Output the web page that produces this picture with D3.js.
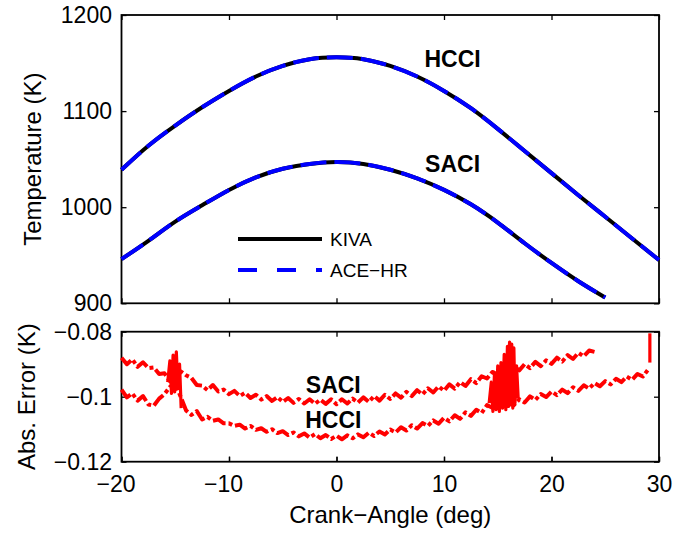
<!DOCTYPE html>
<html>
<head>
<meta charset="utf-8">
<script src="https://cdn.jsdelivr.net/npm/d3@7"></script>
<style>
	body { margin: 0; background: #fff; }
	svg text { font-family: 'Liberation Sans', Arial, Helvetica, sans-serif; fill: #000; }
	.tick text { font-size: 23px; }
	.tick line { stroke: #000; stroke-width: 1.3; }
	.axisLabel { font-size: 24px; }
	.caseLabel { font-size: 23px; font-weight: bold; }
	.legendLabel { font-size: 19px; }
	.frame { fill: none; stroke: #000; stroke-width: 1.8; }
</style>
</head>
<body>
<script>
// temperature curves (crank angle, deg)
const hcciAngles = [-20, -17.5, -15, -12.5, -10, -7.5, -5, -2.5, 0, 2.5, 5, 7.5, 10, 12.5, 15, 17.5, 20, 22.5, 25, 27.5, 30]
const hcciTemp = [1039, 1064, 1085, 1104, 1121, 1136, 1147, 1154, 1156, 1154, 1147, 1136, 1121, 1103, 1081.5, 1058.5, 1035.5, 1012.5, 990, 967.5, 945]
const saciAngles = [-20, -17.5, -15, -12.5, -10, -7.5, -5, -2.5, 0, 2.5, 5, 7.5, 10, 12.5, 15, 17.5, 20, 22.5, 25]
const saciTemp = [946, 965, 985, 1002, 1018, 1031, 1040, 1045, 1047, 1045, 1039, 1030, 1018, 1003, 984, 962.5, 942, 923, 906]

// absolute error, sampled every half degree
const errAngles = d3.range(-20, 29.01, 0.5)
const hcciError = [
	-0.0978, -0.1002, -0.0990, -0.1012, -0.0998, -0.1024, -0.1028, -0.1006, -0.0992, -0.0970,
	-0.0960, -0.1000, -0.1042, -0.1056, -0.1044, -0.1070, -0.1062, -0.1074, -0.1070, -0.1082,
	-0.1082, -0.1090, -0.1086, -0.1098, -0.1090, -0.1102, -0.1097, -0.1108, -0.1100, -0.1112,
	-0.1106, -0.1118, -0.1110, -0.1122, -0.1113, -0.1126, -0.1115, -0.1128, -0.1118, -0.1130,
	-0.1120, -0.1131, -0.1119, -0.1128, -0.1116, -0.1125, -0.1111, -0.1121, -0.1107, -0.1116,
	-0.1101, -0.1110, -0.1094, -0.1104, -0.1088, -0.1098, -0.1081, -0.1090, -0.1073, -0.1083,
	-0.1065, -0.1076, -0.1057, -0.1068, -0.1048, -0.1059, -0.1040, -0.1050, -0.1026, -0.1034,
	-0.1018, -0.1030, -0.1016, -0.1026, -0.1008, -0.1018, -0.0999, -0.1010, -0.0992, -0.1001,
	-0.0984, -0.0995, -0.0978, -0.0989, -0.0971, -0.0982, -0.0965, -0.0975, -0.0958, -0.0968,
	-0.0952, -0.0962, -0.0945, -0.0955, -0.0938, -0.0948, -0.0930, -0.0938, -0.0916
]
const saciError = [
	-0.0880, -0.0900, -0.0885, -0.0908, -0.0894, -0.0912, -0.0910, -0.0930, -0.0928, -0.0952,
	-0.0940, -0.0922, -0.0934, -0.0942, -0.0964, -0.0966, -0.0980, -0.0964, -0.0984, -0.0978,
	-0.0992, -0.0982, -0.0998, -0.0988, -0.1004, -0.0994, -0.1009, -0.0998, -0.1013, -0.1001,
	-0.1016, -0.1004, -0.1019, -0.1007, -0.1021, -0.1008, -0.1022, -0.1009, -0.1022, -0.1008,
	-0.1023, -0.1008, -0.1021, -0.1006, -0.1018, -0.1002, -0.1016, -0.0998, -0.1012, -0.0994,
	-0.1007, -0.0990, -0.1003, -0.0985, -0.0998, -0.0980, -0.0993, -0.0974, -0.0987, -0.0968,
	-0.0982, -0.0962, -0.0975, -0.0955, -0.0967, -0.0946, -0.0958, -0.0937, -0.0944, -0.0924,
	-0.0930, -0.0914, -0.0926, -0.0907, -0.0919, -0.0900, -0.0912, -0.0893, -0.0906, -0.0888,
	-0.0899, -0.0880, -0.0892, -0.0872, -0.0884, -0.0865, -0.0876, -0.0858, -0.0862
]
// bursts of noise around -15 and 16 deg, and the lone spike near 29 deg
const burstLeftAngles = [-15.7, -15.5, -15.35, -15.2, -15.05, -14.9, -14.75, -14.6, -14.45]
const burstLeftError = [-0.0955, -0.0890, -0.0990, -0.0872, -0.0985, -0.0862, -0.0975, -0.0900, -0.1035]
const burstRightAngles = [14.2, 14.4, 14.55, 14.7, 14.85, 15.0, 15.15, 15.3, 15.45, 15.6, 15.75, 15.9, 16.0, 16.1, 16.2, 16.3, 16.4, 16.5, 16.6, 16.75, 16.9]
const burstRightError = [-0.1020, -0.0955, -0.1045, -0.0925, -0.1040, -0.0905, -0.1045, -0.0895, -0.1035, -0.0870, -0.1040, -0.0845, -0.1030, -0.0832, -0.1025, -0.0838, -0.1035, -0.0850, -0.1020, -0.0905, -0.1005]
const tailAngles = [29.15, 29.15]
const tailError = [-0.0805, -0.0895]

const xTicks = [-20, -10, 0, 10, 20, 30]
const tempTicks = [900, 1000, 1100, 1200]
const errTicks = [-0.12, -0.1, -0.08]
const legendItems = ['KIVA', 'ACE\u2212HR']

const zip = (a, b) => a.map((d, i) => [d, b[i]])

const svg = d3.select('body').append('svg')
	.attr('width', 676).attr('height', 533)

const x = d3.scaleLinear().domain([-20, 30]).range([121.5, 659])
const yT = d3.scaleLinear().domain([900, 1200]).range([303.3, 15])
const yE = d3.scaleLinear().domain([-0.12, -0.08]).range([461.7, 331.7])

function frame(y) {
	let r = y.range()
	// ticks on all four sides, pointing inward (matlab box)
	svg.append('g').attr('transform', `translate(0,${r[0]})`)
		.call(d3.axisBottom(x).tickValues(xTicks).tickSizeInner(-5).tickSizeOuter(0).tickFormat(''))
	svg.append('g').attr('transform', `translate(0,${r[1]})`)
		.call(d3.axisTop(x).tickValues(xTicks).tickSizeInner(-5).tickSizeOuter(0).tickFormat(''))
	svg.append('g').attr('transform', `translate(${x.range()[1]},0)`)
		.call(d3.axisRight(y).tickValues(y === yT ? tempTicks : errTicks).tickSizeInner(-5).tickSizeOuter(0).tickFormat(''))
	svg.selectAll('.domain').remove()
	svg.append('rect').attr('class', 'frame')
		.attr('x', x.range()[0]).attr('y', r[1])
		.attr('width', x.range()[1] - x.range()[0]).attr('height', r[0] - r[1])
}

// ---- top panel
frame(yT)
svg.append('g').attr('transform', `translate(${x.range()[0]},0)`)
	.call(d3.axisLeft(yT).tickValues(tempTicks).tickSizeInner(-5).tickSizeOuter(0).tickPadding(9.5).tickFormat(d3.format('d')))
	.call(g => g.select('.domain').remove())

let tempLine = d3.line().x(d => x(d[0])).y(d => yT(d[1])).curve(d3.curveNatural)
let curves = [zip(hcciAngles, hcciTemp), zip(saciAngles, saciTemp)]

svg.append('g').selectAll('path')
	.data(curves)
	.enter()
	.append('path')
	.attr('d', tempLine)
	.style('fill', 'none').style('stroke', '#000').style('stroke-width', 4)

svg.append('g').selectAll('path')
	.data(curves)
	.enter()
	.append('path')
	.attr('d', tempLine)
	.style('fill', 'none').style('stroke', '#0000ff').style('stroke-width', 4)
	.style('stroke-dasharray', '26,8')

svg.append('text').attr('class', 'caseLabel').attr('text-anchor', 'middle')
	.attr('x', x(10.8)).attr('y', yT(1146)).text('HCCI')
svg.append('text').attr('class', 'caseLabel').attr('text-anchor', 'middle')
	.attr('x', x(10.8)).attr('y', yT(1036.5)).text('SACI')

let legend = svg.append('g').selectAll('g')
	.data(legendItems)
	.enter()
	.append('g')
	.attr('transform', (d, i) => `translate(238,${239 + i * 31})`)
legend.append('line')
	.attr('x1', 0).attr('x2', 84)
	.style('stroke', (d, i) => i ? '#0000ff' : '#000').style('stroke-width', 4)
	.style('stroke-dasharray', (d, i) => i ? '19,20' : null)
legend.append('text').attr('class', 'legendLabel')
	.attr('x', 92).attr('dy', '0.36em').text(d => d)

svg.append('text').attr('class', 'axisLabel').attr('text-anchor', 'middle')
	.attr('transform', `translate(41,${(yT.range()[0] + yT.range()[1]) / 2}) rotate(-90)`)
	.text('Temperature (K)')

// ---- bottom panel
frame(yE)
svg.append('g').attr('transform', `translate(${x.range()[0]},0)`)
	.call(d3.axisLeft(yE).tickValues(errTicks).tickSizeInner(-5).tickSizeOuter(0).tickPadding(9.5).tickFormat(d3.format('')))
	.call(g => g.select('.domain').remove())
svg.append('g').attr('transform', `translate(0,${yE.range()[0]})`)
	.call(d3.axisBottom(x).tickValues(xTicks).tickSizeInner(-5).tickSizeOuter(0).tickPadding(14).tickFormat(d3.format('d')))
	.call(g => g.select('.domain').remove())
	.call(g => g.selectAll('text').attr('dx', d => d < 0 ? -6 : 0))

let errLine = d3.line().x(d => x(d[0])).y(d => yE(d[1]))
svg.append('g').selectAll('path')
	.data([zip(errAngles, hcciError), zip(errAngles.slice(0, saciError.length), saciError)])
	.enter()
	.append('path')
	.attr('d', errLine)
	.style('fill', 'none').style('stroke', '#ff0000').style('stroke-width', 4)
	.style('stroke-linejoin', 'round')
	.style('stroke-dasharray', '14,3,4,3')

svg.append('g').selectAll('path')
	.data([zip(burstLeftAngles, burstLeftError), zip(burstRightAngles, burstRightError), zip(tailAngles, tailError)])
	.enter()
	.append('path')
	.attr('d', errLine)
	.style('fill', 'none').style('stroke', '#ff0000').style('stroke-width', 3.2)
	.style('stroke-linejoin', 'round')

svg.append('text').attr('class', 'caseLabel').attr('text-anchor', 'middle')
	.attr('x', x(-0.3)).attr('y', yE(-0.0988)).text('SACI')
svg.append('text').attr('class', 'caseLabel').attr('text-anchor', 'middle')
	.attr('x', x(-0.3)).attr('y', yE(-0.1097)).text('HCCI')

svg.append('text').attr('class', 'axisLabel').attr('text-anchor', 'middle')
	.attr('transform', `translate(35,${(yE.range()[0] + yE.range()[1]) / 2}) rotate(-90)`)
	.text('Abs. Error (K)')
svg.append('text').attr('class', 'axisLabel').attr('text-anchor', 'middle')
	.attr('x', (x.range()[0] + x.range()[1]) / 2).attr('y', 523)
	.text('Crank\u2212Angle (deg)')
</script>
</body>
</html>
